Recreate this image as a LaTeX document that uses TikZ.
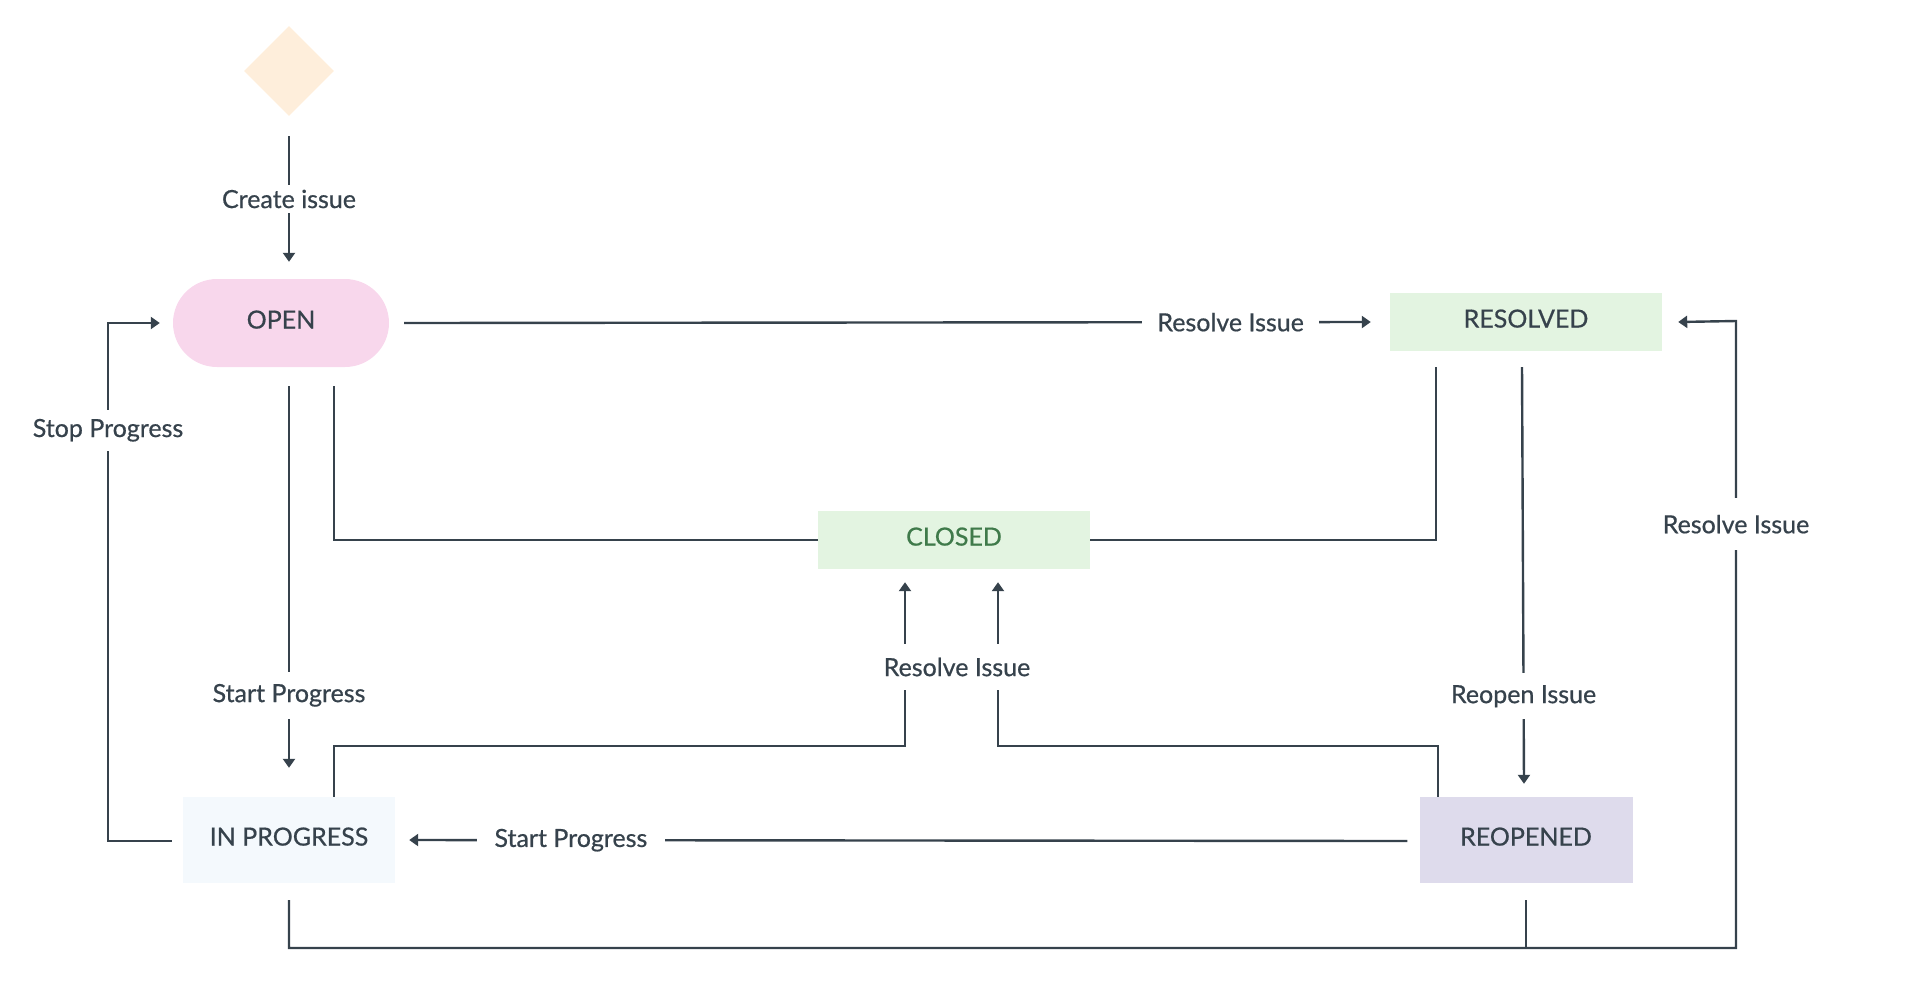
\documentclass[tikz,border=0pt]{standalone}
\usepackage{fontspec}
\setmainfont{Lato}
\newfontfamily\medfont{Lato}[FakeBold=0.6]
\usetikzlibrary{shapes.geometric,arrows.meta,calc}
\definecolor{ink}{HTML}{36424C}
\definecolor{openfill}{HTML}{F8D7EC}
\definecolor{greenfill}{HTML}{E3F4E1}
\definecolor{greentext}{HTML}{3F7A4A}
\definecolor{progfill}{HTML}{F4F9FD}
\definecolor{reopfill}{HTML}{DEDBEC}
\definecolor{diamfill}{HTML}{FEEEDB}
\begin{document}
\begin{tikzpicture}[x=1pt,y=-1pt,
  conn/.style={draw=ink, line width=2.4pt},
  arr/.style={conn, -{Triangle[length=9pt,width=12pt]}},
  lbl/.style={fill=white, text=ink, font=\medfont\fontsize{25}{29}\selectfont, inner xsep=14pt, inner ysep=5pt},
  statebox/.style={rectangle, text=ink, font=\medfont\fontsize{25}{29}\selectfont, inner sep=0pt, text depth=7pt}
]
\useasboundingbox (0,0) rectangle (1920,986);

% states
\node[diamond, fill=diamfill, minimum width=90pt, minimum height=90pt, inner sep=0pt] (start) at (289,71) {};
\node[statebox, fill=openfill, rounded corners=44pt, minimum width=216pt, minimum height=88pt] (open) at (281,323) {OPEN};
\node[statebox, fill=greenfill, minimum width=272pt, minimum height=58pt] (resolved) at (1526,322) {RESOLVED};
\node[statebox, fill=greenfill, text=greentext, minimum width=272pt, minimum height=58pt] (closed) at (954,540) {CLOSED};
\node[statebox, fill=progfill, minimum width=212pt, minimum height=86pt] (inprog) at (289,840) {IN PROGRESS};
\node[statebox, fill=reopfill, minimum width=213pt, minimum height=86pt] (reopened) at (1526,840) {REOPENED};

% corner coordinates
\coordinate (rbr) at (1736,948);
\coordinate (rtr) at (1736,321);
\coordinate (spb) at (108,841);
\coordinate (spt) at (108,323);

% create issue
\draw[arr] ($(start.south)+(0,20)$) -- ($(start.south |- open.north)+(0,-17)$)
  node[lbl, pos=0.5] (lcreate) {Create issue};

% open -> resolved
\draw[arr] ($(open.east)+(15,0)$) -- ($(resolved.west)+(-19,0)$)
  node[lbl, pos=0.855, inner xsep=15pt] (lres1) {Resolve Issue};

% stop progress
\draw[arr] ($(inprog.west)+(-11,1)$) -- (spb) -- (spt)
  node[lbl, pos=0.793, inner ysep=9pt, inner xsep=2pt] (lstop) {Stop Progress}
  -- ($(open.west)+(-13,0)$);

% open -> in progress
\draw[arr] ($(open.south)+(8,19)$) -- ($(inprog.north)+(0,-29)$)
  node[lbl, pos=0.81, inner ysep=12pt] (lstart1) {Start Progress};

% reopened -> in progress
\draw[arr] ($(reopened.west)+(-12,1)$) -- ($(inprog.east)+(14,0)$)
  node[lbl, pos=0.838, inner xsep=18pt] (lstart2) {Start Progress};

% resolved -> reopened
\draw[arr] ($(resolved.south)+(-4,16)$) -- ($(reopened.north)+(-2,-13)$)
  node[lbl, pos=0.79, inner ysep=12pt] (lreopen) {Reopen Issue};

% open -> closed, resolved -> closed
\draw[conn] ($(open.south)+(53,19)$) |- (closed.west);
\draw[conn] ($(resolved.south)+(-90,16)$) |- (closed.east);

% in progress / reopened -> resolved (bottom loop)
\draw[arr] ($(inprog.south)+(0,17)$) |- (rbr) -- (rtr)
  node[lbl, pos=0.676, inner ysep=17pt, inner xsep=2pt] (lres3) {Resolve Issue}
  -- ($(resolved.east)+(16,0)$);
\draw[conn] ($(reopened.south)+(0,17)$) -- (reopened.south |- rbr);

% in progress / reopened -> closed
\draw[arr] ($(inprog.north)+(45,0)$) -- ++(0,-51) -| ($(closed.south)+(-49,13)$);
\draw[arr] ($(reopened.north)+(-88,0)$) -- ++(0,-51) -| ($(closed.south)+(44,13)$);
\node[lbl, inner ysep=14pt, inner xsep=4pt] (lres2) at (957,667) {Resolve Issue};
\end{tikzpicture}
\end{document}
